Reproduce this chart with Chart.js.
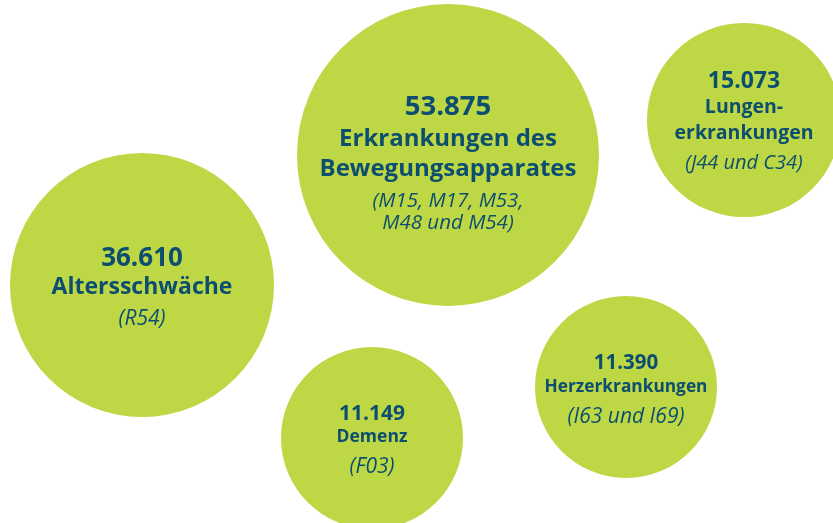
<!DOCTYPE html>
<html>
<head>
<meta charset="utf-8">
<script src="https://cdn.jsdelivr.net/npm/chart.js@4"></script>
<style>
  html, body { margin: 0; padding: 0; background: #fff; }
  #wrap { width: 833px; height: 523px; }
</style>
</head>
<body>
<div id="wrap"><canvas id="myChart"></canvas></div>
<script>
// Werte (Anzahl Fälle)
const values = [36610, 53875, 15073, 11149, 11390];
const names = [
    ["Altersschwäche"],
    ["Erkrankungen des", "Bewegungsapparates"],
    ["Lungen-", "erkrankungen"],
    ["Demenz"],
    ["Herzerkrankungen"]
];
const codes = [
    ["(R54)"],
    ["(M15, M17, M53,", "M48 und M54)"],
    ["(J44 und C34)"],
    ["(F03)"],
    ["(I63 und I69)"]
];
// Lage der Blasen im Bild (x, y) und Radius
const bubbleX = [142, 448, 744, 372, 626];
const bubbleY = [285, 155, 120, 438, 387];
const bubbleR = [132, 151, 97, 91, 91];

const fmt = (v) => v.toLocaleString("de-DE");

// Schrift und Zeilenlage je Blase (Abstand der Zeilenmitte zur Blasenmitte)
const numSize = [26, 27.5, 23, 21, 20.5];
const nameSize = [23, 24, 19.5, 17.5, 17.3];
const codeSize = [21, 20.5, 20, 21, 21];
const lineOffsets = [
    [-28, 1, 33],
    [-50, -18, 12, 45, 67],
    [-40, -14, 12, 42],
    [-25, -2, 28],
    [-25, -1, 29]
];

const labelPlugin = {
    id: "bubbleLabels",
    afterDatasetsDraw(chart) {
        const ctx = chart.ctx;
        const meta = chart.getDatasetMeta(0);
        meta.data.forEach((el, i) => {
            const lines = [];
            lines.push({ t: fmt(values[i]), f: "bold " + numSize[i] + "px 'Open Sans'", s: numSize[i] });
            names[i].forEach((n) => lines.push({ t: n, f: "bold " + nameSize[i] + "px 'Open Sans'", s: nameSize[i] }));
            codes[i].forEach((c) => lines.push({ t: c, f: "italic " + codeSize[i] + "px 'Open Sans'", s: codeSize[i] }));
            ctx.save();
            ctx.fillStyle = "#0c4e6f";
            ctx.textAlign = "center";
            ctx.textBaseline = "alphabetic";
            lines.forEach((l, k) => {
                ctx.font = l.f;
                // Grundlinie so, dass die Versalhöhe mittig liegt
                ctx.fillText(l.t, el.x, el.y + lineOffsets[i][k] + l.s * 0.357);
            });
            ctx.restore();
        });
    }
};

const ctx = document.getElementById("myChart").getContext("2d");
const myChart = new Chart(ctx, {
    type: "bubble",
    data: {
        datasets: [{
            label: "Fälle",
            data: values.map((v, i) => ({ x: bubbleX[i], y: bubbleY[i], r: bubbleR[i] })),
            backgroundColor: "#bed745",
            borderWidth: 0,
            hoverRadius: 0,
            clip: false
        }]
    },
    options: {
        responsive: true,
        maintainAspectRatio: false,
        animation: false,
        layout: { padding: 0, autoPadding: false },
        plugins: {
            legend: { display: false },
            tooltip: { enabled: false }
        },
        scales: {
            x: { type: "linear", min: 0, max: 833, display: false },
            y: { type: "linear", min: 0, max: 523, reverse: true, display: false }
        }
    },
    plugins: [labelPlugin]
});
</script>
</body>
</html>
